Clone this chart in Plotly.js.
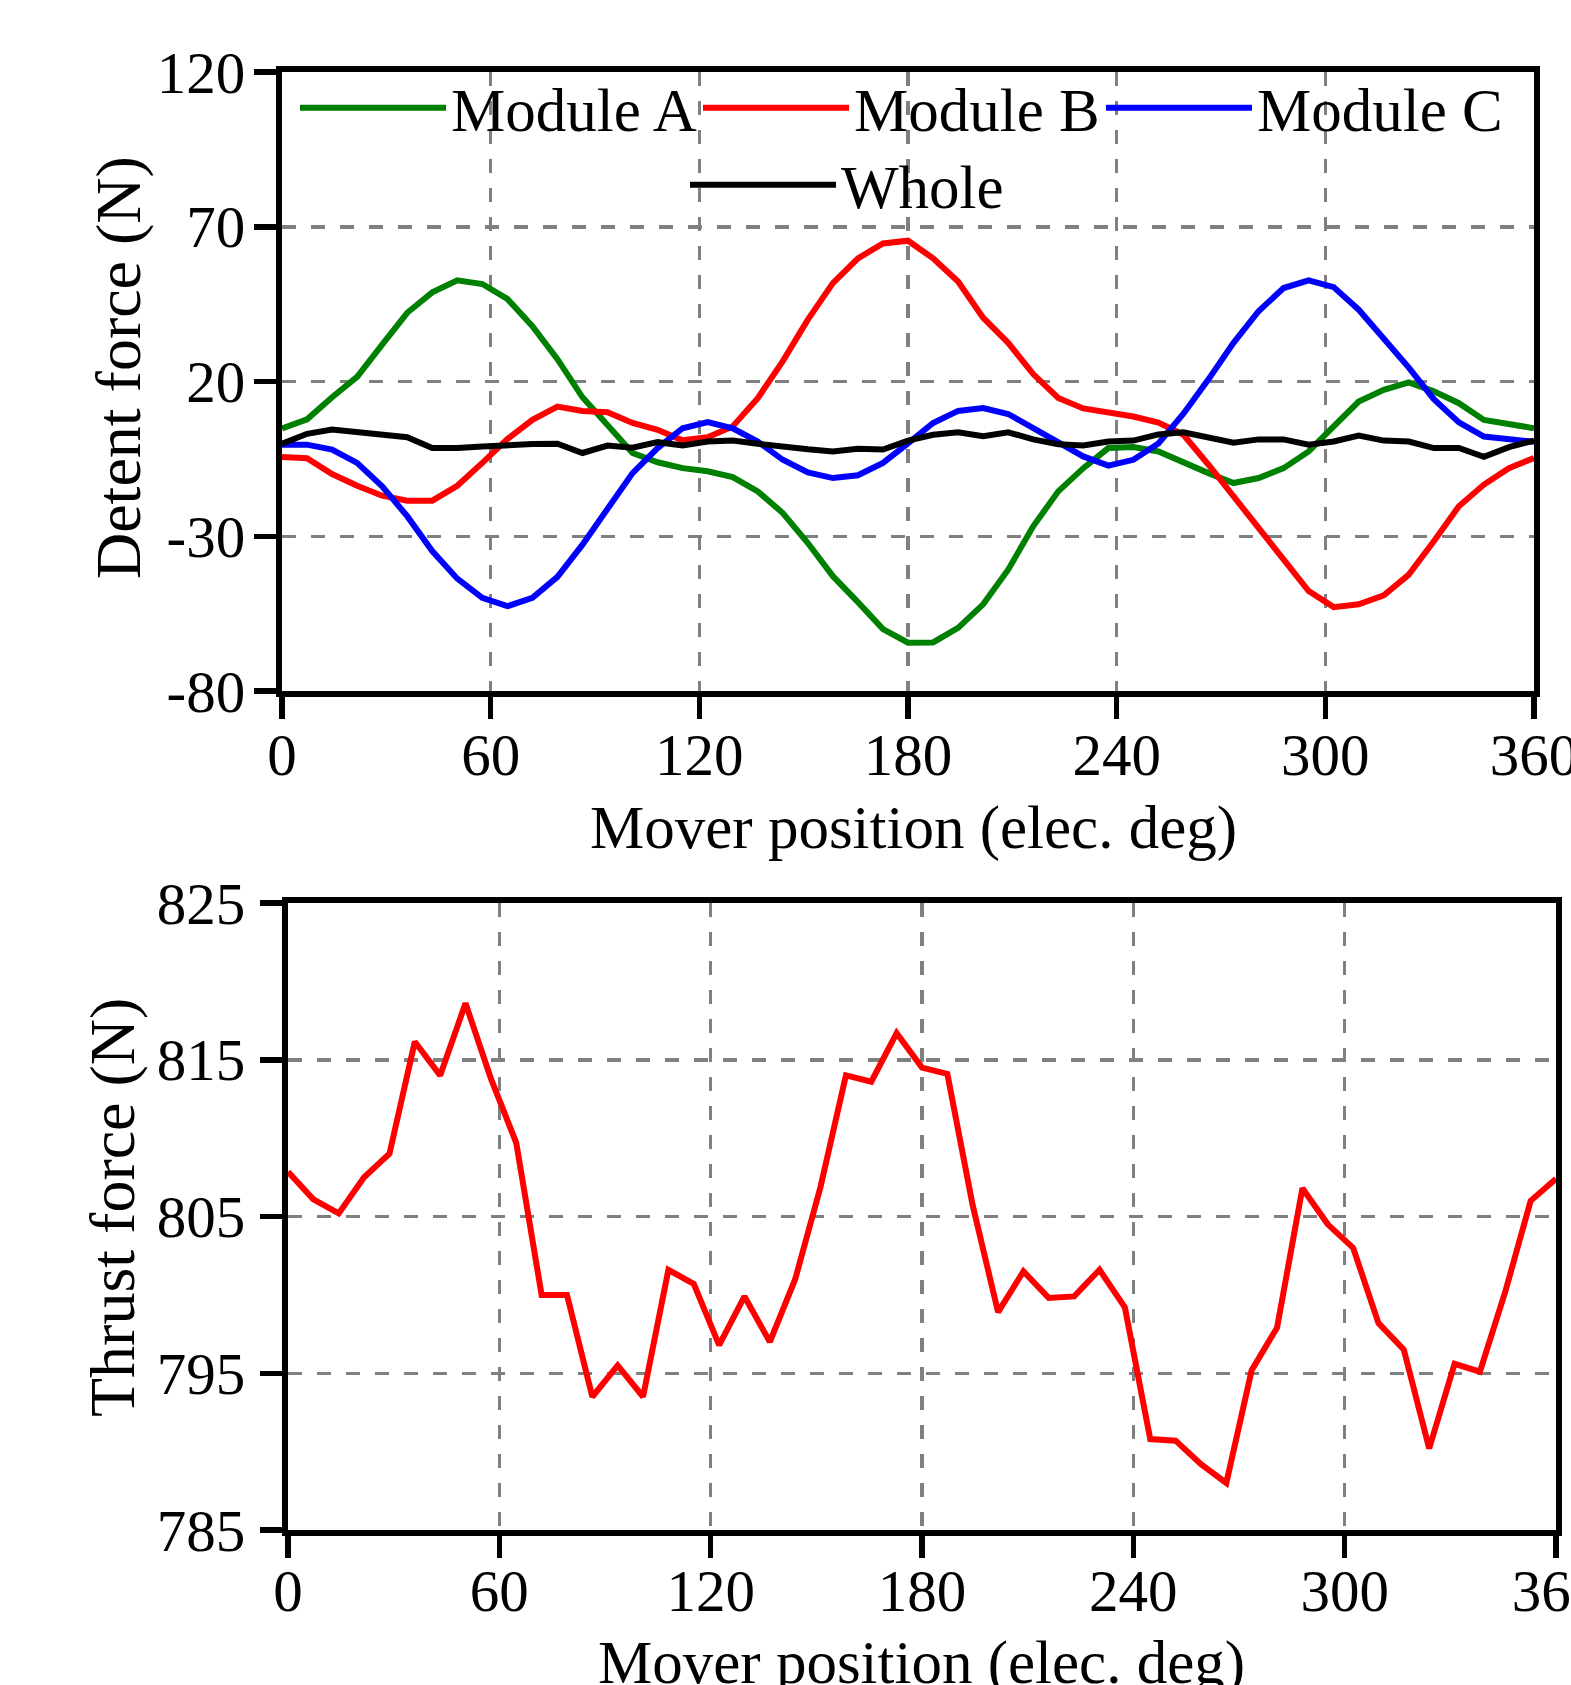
<!DOCTYPE html>
<html>
<head>
<meta charset="utf-8">
<script src="https://cdn.plot.ly/plotly-3.0.1.min.js"></script>
<style>
  html, body { margin: 0; padding: 0; background: #fff; overflow: hidden; }
  #chart { width: 1571px; height: 1685px; }
</style>
</head>
<body>
<div id="chart"></div>
<script>
// Mover position (elec. deg), sampled every 7.2 deg
const position = [0, 7.2, 14.4, 21.6, 28.8, 36, 43.2, 50.4, 57.6, 64.8, 72, 79.2, 86.4, 93.6, 100.8, 108, 115.2, 122.4, 129.6, 136.8, 144, 151.2, 158.4, 165.6, 172.8, 180, 187.2, 194.4, 201.6, 208.8, 216, 223.2, 230.4, 237.6, 244.8, 252, 259.2, 266.4, 273.6, 280.8, 288, 295.2, 302.4, 309.6, 316.8, 324, 331.2, 338.4, 345.6, 352.8, 360];

// Detent force (N)
const moduleA = [4.8, 7.8, 14.9, 21.5, 31.9, 42.2, 48.8, 52.7, 51.5, 46.7, 37.9, 27.2, 14.9, 6.0, -3.1, -6.1, -8.0, -9.0, -10.9, -15.5, -22.5, -32.2, -42.9, -51.3, -60.0, -64.4, -64.3, -59.6, -52.0, -40.8, -26.8, -15.5, -8.0, -1.5, -1.2, -2.6, -6.3, -9.6, -12.8, -11.2, -8.0, -2.6, 5.5, 13.5, 17.3, 19.7, 16.8, 13.0, 7.6, 6.2, 4.9];
const moduleB = [-4.4, -4.8, -9.9, -13.7, -16.9, -18.5, -18.5, -13.7, -6.3, 1.4, 7.6, 11.9, 10.5, 10.1, 6.6, 4.4, 1.0, 2.0, 5.5, 14.6, 26.6, 40.0, 51.8, 59.8, 64.6, 65.5, 59.8, 52.3, 40.6, 32.5, 22.4, 14.7, 11.3, 9.9, 8.7, 6.7, 2.8, -6.9, -17.1, -27.3, -38.1, -47.7, -52.9, -52.0, -49.1, -42.4, -31.6, -20.3, -13.3, -8.0, -4.7];
const moduleC = [-0.4, -0.4, -2.0, -6.3, -13.9, -23.5, -34.8, -43.7, -49.9, -52.6, -49.9, -43.1, -32.7, -20.9, -9.6, -1.5, 4.9, 6.9, 4.9, 0.6, -5.3, -9.4, -11.2, -10.3, -6.3, 0.0, 6.6, 10.5, 11.4, 9.5, 4.9, 0.1, -4.2, -7.2, -5.3, 0.0, 9.6, 20.7, 32.5, 42.7, 50.2, 52.7, 50.5, 43.2, 34.1, 24.5, 14.3, 6.8, 2.2, 1.2, 0.5];
const whole = [-0.1, 3.1, 4.5, 3.6, 2.8, 2.0, -1.5, -1.5, -1.0, -0.4, -0.2, -0.1, -3.1, -0.7, -1.4, 0.4, -0.7, 0.6, 0.9, -0.1, -1.2, -1.9, -2.6, -1.7, -2.0, 0.9, 2.8, 3.6, 2.3, 3.6, 1.3, -0.3, -0.7, 0.6, 0.9, 2.9, 3.6, 2.0, 0.2, 1.3, 1.3, -0.4, 0.6, 2.5, 0.9, 0.6, -1.5, -1.5, -4.3, -1.2, 0.9];

// Thrust force (N)
const thrust = [807.85, 806.1, 805.2, 807.5, 809.0, 816.15, 814.0, 818.6, 813.8, 809.7, 800.0, 800.0, 793.5, 795.5, 793.5, 801.6, 800.7, 796.8, 799.9, 797.0, 801.0, 806.9, 814.0, 813.6, 816.7, 814.5, 814.1, 805.7, 798.9, 801.5, 799.8, 799.9, 801.6, 799.2, 790.8, 790.7, 789.2, 788.0, 795.2, 797.9, 806.8, 804.5, 803.0, 798.2, 796.5, 790.2, 795.6, 795.1, 800.2, 806.0, 807.4];

// Tick values and labels
const xTicks = [0, 60, 120, 180, 240, 300, 360];
const xTickText = ['0', '60', '120', '180', '240', '300', '360'];
const detentTicks = [-80, -30, 20, 70, 120];
const detentTickText = ['-80', '-30', '20', '70', '120'];
const thrustTicks = [785, 795, 805, 815, 825];
const thrustTickText = ['785', '795', '805', '815', '825'];

// Text
const xTitle = 'Mover position (elec. deg)';
const detentTitle = 'Detent force (N)';
const thrustTitle = 'Thrust force (N)';

const seriesNames = ['Module A', 'Module B', 'Module C', 'Whole'];
const seriesColors = ['#008000', '#ff0000', '#0000ff', '#000000'];
const seriesData = [moduleA, moduleB, moduleC, whole];
const legendIds = ['legend', 'legend2', 'legend3', 'legend4'];

const FONT = 'Liberation Serif, Times New Roman, serif';
const W = 1571, H = 1685;
const px = v => v / W;
const py = v => 1 - v / H;

const traces = seriesData.map((vals, k) => ({
  type: 'scatter', mode: 'lines',
  x: position, y: vals,
  name: seriesNames[k],
  line: { color: seriesColors[k], width: 6 },
  xaxis: 'x', yaxis: 'y',
  legend: legendIds[k],
  showlegend: true
}));

traces.push({
  type: 'scatter', mode: 'lines',
  x: position, y: thrust,
  name: 'Thrust force',
  line: { color: '#ff0000', width: 6 },
  xaxis: 'x2', yaxis: 'y2',
  showlegend: false
});

function axisStyle(extra) {
  return Object.assign({
    showline: true, linecolor: '#000', linewidth: 6, mirror: true,
    ticks: 'outside', ticklen: 22, tickwidth: 5.5, tickcolor: '#000',
    showgrid: true, gridcolor: '#808080', gridwidth: 3.5, griddash: '14px,15px',
    zeroline: false, automargin: false, tickmode: 'array',
    ticklabeloverflow: 'allow',
    tickfont: { family: FONT, size: 59, color: '#000' },
    fixedrange: true
  }, extra);
}

function legendAt(xpx, ypx) {
  return {
    x: px(xpx), y: py(ypx), xanchor: 'left', yanchor: 'middle',
    xref: 'paper', yref: 'paper',
    bgcolor: 'rgba(0,0,0,0)', borderwidth: 0,
    font: { family: FONT, size: 61, color: '#000' },
    itemwidth: 146, orientation: 'h', tracegroupgap: 0
  };
}

function titleNote(text, xpx, ypx, size, angle) {
  return {
    text: text, xref: 'paper', yref: 'paper',
    x: px(xpx), y: py(ypx), xanchor: 'center', yanchor: 'middle',
    showarrow: false, textangle: angle || 0,
    font: { family: FONT, size: size, color: '#000' }
  };
}

const layout = {
  width: W, height: H,
  margin: { l: 0, r: 0, t: 0, b: 0 },
  paper_bgcolor: '#fff', plot_bgcolor: '#fff',
  font: { family: FONT, color: '#000' },
  xaxis: axisStyle({
    domain: [px(282), px(1534)], range: [0, 360],
    tickvals: xTicks, ticktext: xTickText,
    anchor: 'y', ticklabelstandoff: -15
  }),
  yaxis: axisStyle({
    domain: [py(691), py(72)], range: [-80, 120],
    tickvals: detentTicks, ticktext: detentTickText,
    anchor: 'x', ticklabelstandoff: -3
  }),
  xaxis2: axisStyle({
    domain: [px(288), px(1556)], range: [0, 360],
    tickvals: xTicks, ticktext: xTickText,
    anchor: 'y2', ticklabelstandoff: -18
  }),
  yaxis2: axisStyle({
    domain: [py(1530), py(903)], range: [785, 825],
    tickvals: thrustTicks, ticktext: thrustTickText,
    anchor: 'x2', ticklabelstandoff: 3
  }),
  annotations: [
    titleNote(xTitle, 913, 828, 61),
    titleNote(detentTitle, 119, 368, 64, -90),
    titleNote(xTitle, 921, 1663, 61),
    titleNote(thrustTitle, 112, 1208, 64, -90)
  ],
  legend: legendAt(295, 108),
  legend2: legendAt(698, 108),
  legend3: legendAt(1101, 108),
  legend4: legendAt(685, 185),
  showlegend: true
};

Plotly.newPlot('chart', traces, layout, { staticPlot: true, displayModeBar: false });
</script>
</body>
</html>
